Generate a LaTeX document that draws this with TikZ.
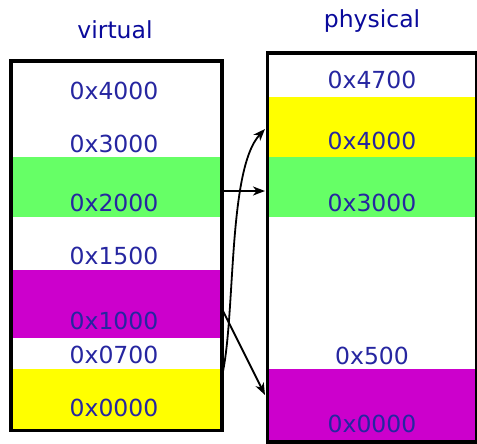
\documentclass[tikz,border=0pt]{standalone}
\usepackage{fontspec}
\setmainfont{DejaVu Sans}
\usetikzlibrary{arrows.meta}
\definecolor{labblue}{RGB}{38,38,160}
\definecolor{titblue}{RGB}{10,10,155}
\definecolor{bgreen}{RGB}{102,255,102}
\definecolor{byellow}{RGB}{255,255,0}
\definecolor{bmagenta}{RGB}{204,0,204}
\tikzset{
  lab/.style={text=labblue,font=\fontsize{23.5}{26}\selectfont,inner sep=0pt,anchor=center},
  tit/.style={text=titblue,font=\fontsize{23.5}{26}\selectfont,inner sep=0pt,anchor=center},
  memframe/.style={draw=black,line width=3.8pt,fill=none,inner sep=0pt,anchor=north west},
  conn/.style={draw=black,line width=1.8pt,-{Stealth[length=12pt,width=9pt,inset=3.5pt]}},
}
\begin{document}
\begin{tikzpicture}[x=1pt,y=-1pt]
\useasboundingbox (0,0) rectangle (477,444);
% bands left
\fill[bgreen] (9,157) rectangle (220,217);
\fill[bmagenta] (9,270) rectangle (220,338);
\fill[byellow] (9,369) rectangle (220,428.5);
% bands right
\fill[byellow] (265.5,97) rectangle (475,157);
\fill[bgreen] (265.5,157) rectangle (475,217);
\fill[bmagenta] (265.5,369) rectangle (475,440);
% frames
\node[memframe,minimum width=211pt,minimum height=369.5pt] (vbox) at (9,59) {};
\node[memframe,minimum width=209.5pt,minimum height=388.5pt] (pbox) at (265.5,51.5) {};
% titles
\node[tit] (vtitle) at (115,30) {virtual};
\node[tit] (ptitle) at (372,21) {physical};
% left labels
\node[lab] (v4000) at (114,91) {0x4000};
\node[lab] (v3000) at (114,144) {0x3000};
\node[lab] (v2000) at (114,203) {0x2000};
\node[lab] (v1500) at (114,256) {0x1500};
\node[lab] (v1000) at (114,321) {0x1000};
\node[lab] (v0700) at (114,355) {0x0700};
\node[lab] (v0000) at (114,408) {0x0000};
% right labels
\node[lab] (p4700) at (372,80) {0x4700};
\node[lab] (p4000) at (372,141) {0x4000};
\node[lab] (p3000) at (372,203) {0x3000};
\node[lab] (p500) at (372,356) {0x500};
\node[lab] (p0000) at (372,424) {0x0000};
% connector endpoints
\coordinate (a1s) at (221.5,378);
\coordinate (a1e) at (265,129);
\coordinate (a2s) at (221.5,191);
\coordinate (a2e) at (265,191);
\coordinate (a3s) at (221.5,308);
\coordinate (a3e) at (265,395);
\draw[conn] (a1s) .. controls (236,320) and (227,170) .. (a1e);
\draw[conn] (a2s) -- (a2e);
\draw[conn] (a3s) -- (a3e);
\end{tikzpicture}
\end{document}
